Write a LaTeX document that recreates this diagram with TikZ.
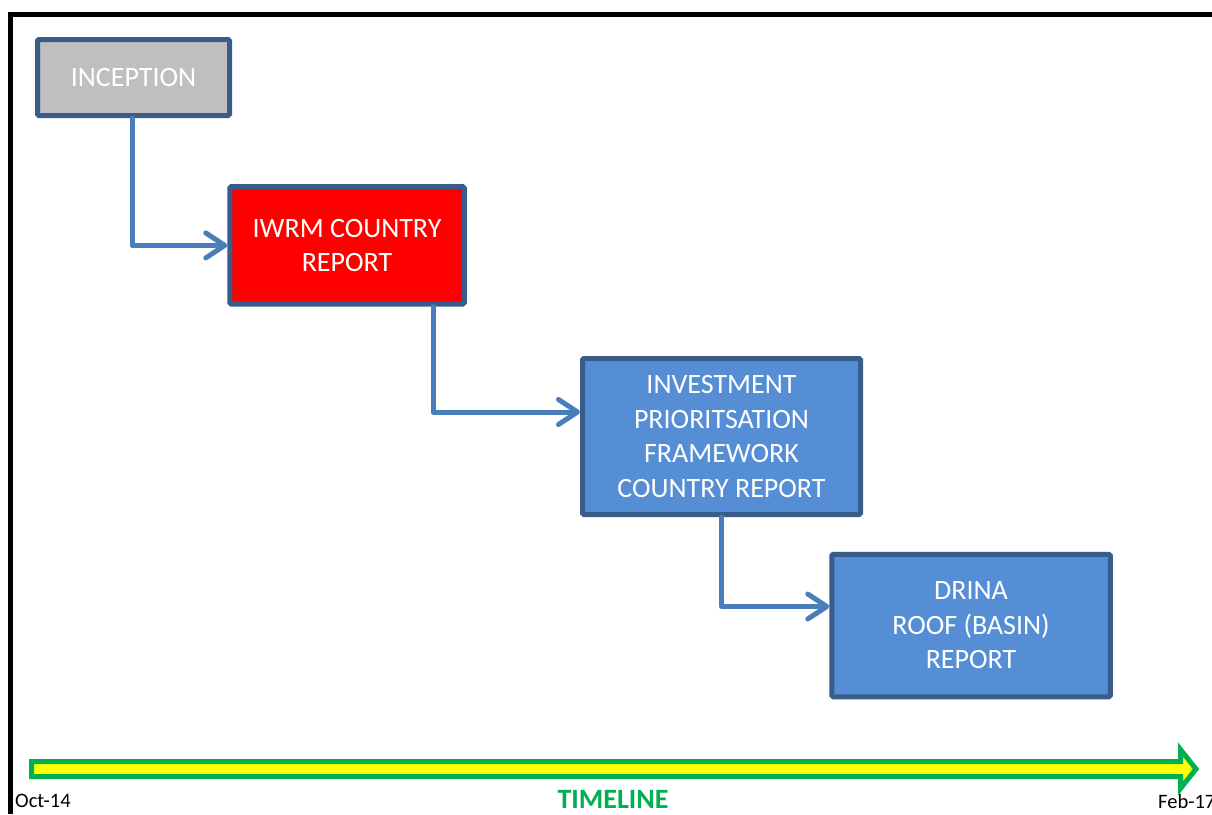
\documentclass[tikz,border=0pt]{standalone}
\usepackage{fontspec}
\setmainfont{Carlito}
\usetikzlibrary{arrows.meta}
\definecolor{boxborder}{HTML}{385D8A}
\definecolor{boxblue}{HTML}{558ED5}
\definecolor{boxgray}{HTML}{BFBFBF}
\definecolor{conncol}{HTML}{4A7EBB}
\definecolor{tlgreen}{HTML}{00B050}
\definecolor{tlyellow}{HTML}{FFFF00}
\tikzset{
  box/.style={draw=boxborder, line width=5pt, rounded corners=1.5pt, text=white,
    align=center, inner sep=0pt, font=\fontsize{28}{34.5}\selectfont},
  conn/.style={draw=conncol, line width=5pt, line cap=round, line join=round,
    -{Straight Barb[length=19pt,width=25pt,line cap=round,line join=round]}},
  datelabel/.style={font=\fontsize{20.5}{24}\selectfont, inner sep=0pt}
}
\begin{document}
\begin{tikzpicture}[x=1pt,y=-1pt]
\useasboundingbox (0,0) rectangle (1212,814);
% frame
\draw[line width=4.5pt, black] (10.5,814) -- (10.5,14.5) -- (1212,14.5);
% boxes
\node[box, fill=boxgray, minimum width=192pt, minimum height=76pt] (inc) at (133.5,77.5) {INCEPTION};
\node[box, fill=red, minimum width=234.5pt, minimum height=117.5pt] (iwrm) at (347,245.4) {IWRM COUNTRY\\REPORT};
\node[box, fill=boxblue, minimum width=278pt, minimum height=156pt] (inv) at (721.5,436.5) {INVESTMENT\\PRIORITSATION\\FRAMEWORK\\COUNTRY REPORT};
\node[box, fill=boxblue, minimum width=278.5pt, minimum height=142.5pt] (drina) at (971,625.5) {DRINA\\ROOF (BASIN)\\REPORT};
% connectors
\draw[conn] ([xshift=-1.5pt]inc.south) |- (iwrm.west);
\draw[conn] ([xshift=86pt]iwrm.south) |- ([yshift=24.5pt]inv.west);
\draw[conn] (inv.south) |- ([yshift=19pt]drina.west);
% timeline
\draw[draw=tlgreen, fill=tlyellow, line width=5pt, line join=miter]
  (31.5,761.5) -- (1180.5,761.5) -- (1180.5,749.5) -- (1196,769) -- (1180.5,788.5) -- (1180.5,776.5) -- (31.5,776.5) -- cycle;
\node[datelabel, anchor=west] (oct) at (15,801) {Oct-14};
\node[datelabel, anchor=west] (feb) at (1158,801) {Feb-17};
\node[font=\fontsize{28}{32}\selectfont\bfseries, text=tlgreen, inner sep=0pt] (tl) at (613,799) {TIMELINE};
\end{tikzpicture}
\end{document}
